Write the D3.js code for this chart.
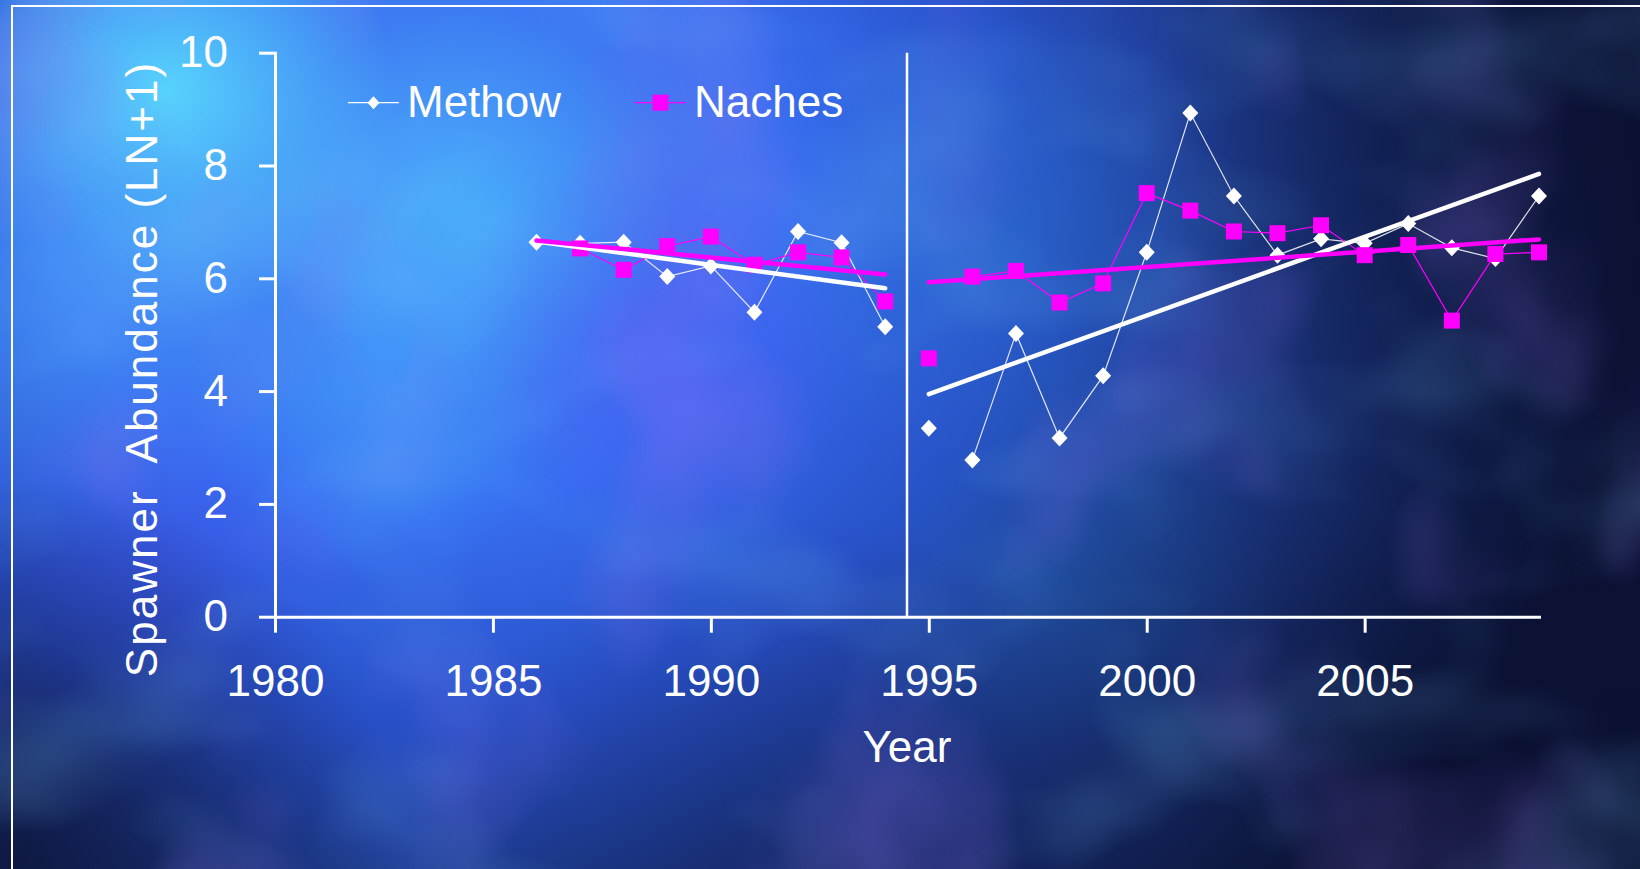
<!DOCTYPE html>
<html>
<head>
<meta charset="utf-8">
<script src="https://cdn.jsdelivr.net/npm/d3@7"></script>
<style>
html, body { margin: 0; padding: 0; background: #0e1a4a; overflow: hidden; }
svg { display: block; }
.axis text { fill: #fff; font-family: "Liberation Sans", Arial, sans-serif; font-size: 44px; }
.axis path, .axis line { stroke: #fff; stroke-width: 3; }
</style>
</head>
<body>
<div id="chart"></div>
<script>
//data
var methowYears = [1986, 1987, 1988, 1989, 1990, 1991, 1992, 1993, 1994,
    1995, 1996, 1997, 1998, 1999, 2000, 2001, 2002, 2003, 2004, 2005, 2006, 2007, 2008, 2009];
var methowValues = [6.64, 6.62, 6.64, 6.03, 6.22, 5.40, 6.83, 6.63, 5.14,
    3.34, 2.78, 5.02, 3.17, 4.27, 6.46, 8.93, 7.46, 6.41, 6.70, 6.62, 6.97, 6.54, 6.35, 7.46];
var nachesYears = [1987, 1988, 1989, 1990, 1991, 1992, 1993, 1994,
    1995, 1996, 1997, 1998, 1999, 2000, 2001, 2002, 2003, 2004, 2005, 2006, 2007, 2008, 2009];
var nachesValues = [6.53, 6.15, 6.57, 6.74, 6.24, 6.46, 6.37, 5.59,
    4.58, 6.03, 6.13, 5.57, 5.91, 7.51, 7.20, 6.83, 6.80, 6.94, 6.41, 6.59, 5.25, 6.43, 6.46];
var seriesNames = ['Methow', 'Naches'];
var periods = [[1986, 1994], [1995, 2009]];   // trend line spans
var lineRuns = [[1987, 1994], [1996, 2009]];  // joined stretches of each series
var breakYear = 1994.5;
var xTicks = [1980, 1985, 1990, 1995, 2000, 2005];
var yTicks = [0, 2, 4, 6, 8, 10];
var xTitle = 'Year';
var yTitle = 'Spawner  Abundance (LN+1)';

//sizes
var outerW = 1640,
    outerH = 869;

var margin = {
    top: 52.7,
    left: 275,
    right: 101,
    bottom: 252.3
};

var w = outerW - margin.left - margin.right,
    h = outerH - margin.top - margin.bottom;

//other
var pink = '#ff00ff';
var font = '"Liberation Sans", Arial, sans-serif';

var svg = d3.select('#chart').append('svg')
    .attr('width', outerW)
    .attr('height', outerH);

var defs = svg.append('defs');

buildBackground();

var xScale = d3.scaleLinear().domain([1980, 2009]).range([0, w]);
var yScale = d3.scaleLinear().domain([0, 10]).range([h, 0]);

var g = svg.append('g')
    .attr('transform', 'translate(' + margin.left + ', ' + margin.top + ')');

//axes
var xAxis = d3.axisBottom(xScale)
    .tickValues(xTicks)
    .tickFormat(d3.format('d'))
    .tickSize(16)
    .tickSizeOuter(0)
    .tickPadding(32);

var yAxis = d3.axisLeft(yScale)
    .tickValues(yTicks)
    .tickSize(16)
    .tickSizeOuter(0)
    .tickPadding(31);

g.append('g')
    .attr('class', 'axis')
    .attr('transform', 'translate(0, ' + h + ')')
    .call(xAxis);

g.append('g')
    .attr('class', 'axis')
    .call(yAxis);

g.selectAll('.axis .domain').attr('stroke-linecap', 'square');

//period divider
g.append('line')
    .attr('x1', xScale(breakYear))
    .attr('x2', xScale(breakYear))
    .attr('y1', yScale(10))
    .attr('y2', yScale(0))
    .attr('stroke', '#fff')
    .attr('stroke-width', 2.5);

//titles
g.append('text')
    .attr('x', w / 2)
    .attr('y', h + 145)
    .attr('text-anchor', 'middle')
    .attr('fill', '#fff')
    .style('font-family', font)
    .style('font-size', '44px')
    .text(xTitle);

g.append('text')
    .attr('transform', 'translate(' + (157 - margin.left) + ', ' + (369 - margin.top) + ') rotate(-90)')
    .attr('text-anchor', 'middle')
    .attr('fill', '#fff')
    .style('font-family', font)
    .style('font-size', '44px')
    .style('letter-spacing', '2px')
    .style('white-space', 'pre')
    .text(yTitle);

//series
var methow = methowYears.map(function(d, i) { return {year: d, value: methowValues[i]}; });
var naches = nachesYears.map(function(d, i) { return {year: d, value: nachesValues[i]}; });

var line = d3.line()
    .x(function(d) { return xScale(d.year); })
    .y(function(d) { return yScale(d.value); });

function drawSeries(data, color, marker) {
    lineRuns.forEach(function(r) {
        var run = data.filter(function(d) { return d.year >= r[0] && d.year <= r[1]; });
        g.append('path')
            .datum(run)
            .attr('d', line)
            .attr('fill', 'none')
            .attr('stroke', color)
            .attr('stroke-opacity', color == '#fff' ? 0.85 : 1)
            .attr('stroke-width', 1.2);
    });

    g.append('g').selectAll('path')
        .data(data).enter().append('path')
        .attr('transform', function(d) { return 'translate(' + xScale(d.year) + ', ' + yScale(d.value) + ')'; })
        .attr('d', marker)
        .attr('fill', color);
}

var diamond = 'M0,-8.5L8,0L0,8.5L-8,0Z';
var square = 'M-8,-8H8V8H-8Z';

drawSeries(methow, '#fff', diamond);
drawSeries(naches, pink, square);

//least squares trend per period
function trend(data, p) {
    var pts = data.filter(function(d) { return d.year >= p[0] && d.year <= p[1]; });
    var mx = d3.mean(pts, function(d) { return d.year; }),
        my = d3.mean(pts, function(d) { return d.value; });
    var sxy = d3.sum(pts, function(d) { return (d.year - mx) * (d.value - my); }),
        sxx = d3.sum(pts, function(d) { return (d.year - mx) * (d.year - mx); });
    var b = sxy / sxx;
    return [p[0], p[1]].map(function(x) { return {year: x, value: my + b * (x - mx)}; });
}

[[methow, '#fff'], [naches, pink]].forEach(function(s) {
    periods.forEach(function(p) {
        g.append('path')
            .datum(trend(s[0], p))
            .attr('d', line)
            .attr('stroke', s[1])
            .attr('stroke-width', 4.5)
            .attr('stroke-linecap', 'round');
    });
});

//legend
var legend = svg.append('g');
var legendItems = [
    {name: seriesNames[0], color: '#fff', marker: 'M0,-6.5L6,0L0,6.5L-6,0Z', x: 348},
    {name: seriesNames[1], color: pink, marker: square, x: 635}
];

legendItems.forEach(function(d) {
    var item = legend.append('g').attr('transform', 'translate(' + d.x + ', 102.7)');
    item.append('line')
        .attr('x1', 0).attr('x2', 51)
        .attr('stroke', d.color)
        .attr('stroke-width', 1.2);
    item.append('path')
        .attr('transform', 'translate(25.5, 0)')
        .attr('d', d.marker)
        .attr('fill', d.color);
    item.append('text')
        .attr('x', 59)
        .attr('y', 14.5)
        .attr('fill', '#fff')
        .style('font-family', font)
        .style('font-size', '44px')
        .text(d.name);
});

//frame
svg.append('rect')
    .attr('x', 12)
    .attr('y', 6)
    .attr('width', outerW)
    .attr('height', outerH)
    .attr('fill', 'none')
    .attr('stroke', '#fff')
    .attr('stroke-width', 2);

//mottled blue slide background
function buildBackground() {
    var base = defs.append('radialGradient')
        .attr('id', 'bg-base')
        .attr('gradientUnits', 'userSpaceOnUse')
        .attr('cx', 420).attr('cy', 200).attr('r', 1220)
        .attr('gradientTransform', 'translate(420,200) scale(1,0.85) translate(-420,-200)');
    [[0, '#4690f6'], [0.3, '#376ef0'], [0.5, '#2850c8'], [0.68, '#1c3888'], [0.86, '#112052'], [1, '#0b1234']]
        .forEach(function(s) { base.append('stop').attr('offset', s[0]).attr('stop-color', s[1]); });

    svg.append('rect').attr('width', outerW).attr('height', outerH).attr('fill', 'url(#bg-base)');

    //soft glows and shadows
    var blobs = [
        {x: 165, y: 95, r: 230, c: '#5ce6ff', o: 0.85},
        {x: 470, y: 210, r: 200, c: '#4ed0ff', o: 0.45},
        {x: 60, y: 300, r: 260, c: '#4aa0f8', o: 0.5},
        {x: 380, y: 390, r: 190, c: '#45b4ff', o: 0.4},
        {x: 660, y: 340, r: 200, c: '#5a40f0', o: 0.35},
        {x: 160, y: 560, r: 200, c: '#4a48f0', o: 0.3},
        {x: 1000, y: 230, r: 240, c: '#2a88c8', o: 0.3},
        {x: 1060, y: 560, r: 220, c: '#2080b0', o: 0.2},
        {x: 20, y: 860, r: 380, c: '#0b1030', o: 0.75},
        {x: 1580, y: 120, r: 440, c: '#0a1030', o: 0.65},
        {x: 1620, y: 860, r: 440, c: '#0a1030', o: 0.6},
        {x: 800, y: 900, r: 380, c: '#0c1440', o: 0.35}
    ];

    blobs.forEach(function(b, i) {
        var rg = defs.append('radialGradient').attr('id', 'blob-' + i);
        rg.append('stop').attr('offset', 0).attr('stop-color', b.c).attr('stop-opacity', b.o);
        rg.append('stop').attr('offset', 1).attr('stop-color', b.c).attr('stop-opacity', 0);
        svg.append('circle')
            .attr('cx', b.x).attr('cy', b.y).attr('r', b.r)
            .attr('fill', 'url(#blob-' + i + ')');
    });

    //cloudy texture
    var f = defs.append('filter')
        .attr('id', 'clouds')
        .attr('x', 0).attr('y', 0).attr('width', 1).attr('height', 1);
    f.append('feTurbulence')
        .attr('type', 'fractalNoise')
        .attr('baseFrequency', '0.004 0.006')
        .attr('numOctaves', 3)
        .attr('seed', 11);
    f.append('feColorMatrix')
        .attr('type', 'matrix')
        .attr('values', '0 0 0 0 0.2  0 0 0 0 0.6  0 0 0 0 1  2.6 0 0 0 -1.25');

    svg.append('rect')
        .attr('width', outerW).attr('height', outerH)
        .attr('filter', 'url(#clouds)')
        .attr('opacity', 0.2);

    var f2 = defs.append('filter')
        .attr('id', 'clouds2')
        .attr('x', 0).attr('y', 0).attr('width', 1).attr('height', 1);
    f2.append('feTurbulence')
        .attr('type', 'fractalNoise')
        .attr('baseFrequency', '0.005 0.004')
        .attr('numOctaves', 3)
        .attr('seed', 4);
    f2.append('feColorMatrix')
        .attr('type', 'matrix')
        .attr('values', '0 0 0 0 0.3  0 0 0 0 0.18  0 0 0 0 0.85  2.6 0 0 0 -1.3');

    svg.append('rect')
        .attr('width', outerW).attr('height', outerH)
        .attr('filter', 'url(#clouds2)')
        .attr('opacity', 0.3);
}
</script>
</body>
</html>
